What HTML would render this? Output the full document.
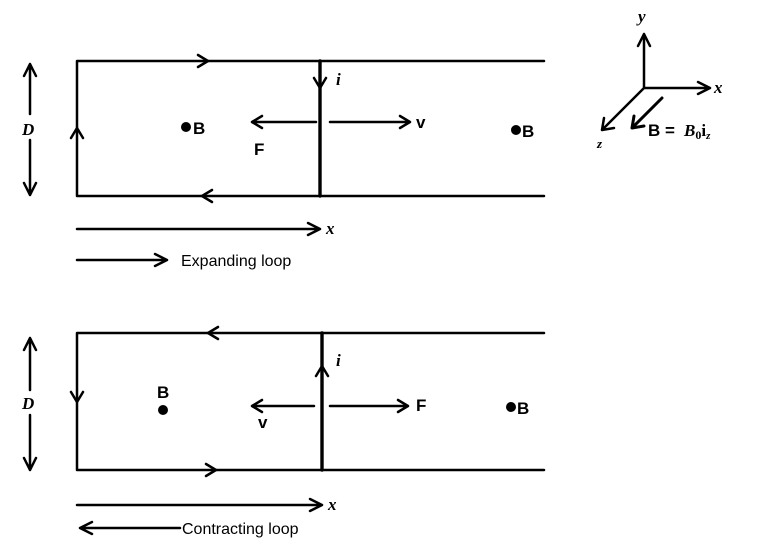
<!DOCTYPE html><html><head><style>body{margin:0;background:#fff}svg{display:block}text{font-family:"Liberation Sans",sans-serif;fill:#000}</style></head><body>
<svg width="776" height="546" viewBox="0 0 776 546" xmlns="http://www.w3.org/2000/svg">
<g stroke="#000" fill="none" stroke-width="2.5" stroke-linecap="round" stroke-linejoin="round">
<path d="M544 61H77V196H544"/>
<path d="M320 61V196" stroke-width="3.4"/>
<path d="M198 55l10 6-10 6M212 190l-10 6 10 6M71 138l6-10 6 10M314 78l6 10 6-10"/>
<path d="M30 64V114M30 140V195M24 76l6-12 6 12M24 183l6 12 6-12"/>
<path d="M316 122H252M262 116l-10 6 10 6M330 122H410M400 116l10 6-10 6"/>
<path d="M77 229H320M308 223l12 6-12 6M77 260H167M155 254l12 6-12 6"/>
<path d="M544 333H77V470H544"/>
<path d="M322 333V470" stroke-width="3.4"/>
<path d="M218 327l-10 6 10 6M206 464l10 6-10 6M71 392l6 10 6-10M316 376l6-10 6 10"/>
<path d="M30 338V390M30 415V470M24 350l6-12 6 12M24 458l6 12 6-12"/>
<path d="M314 406H252M262 400l-10 6 10 6M330 406H408M398 400l10 6-10 6"/>
<path d="M77 505H322M310 499l12 6-12 6M180 528H80M92 522l-12 6 12 6"/>
<path d="M644 88V34M638 46l6-12 6 12M644 88H710M698 82l12 6-12 6M644 88L602 130M604 118l-2 12 12-2"/>
<path d="M662 98L632 128M634 116l-2 12 12-2" stroke-width="3"/>
</g>
<g fill="#000">
<circle cx="186" cy="127" r="5"/><circle cx="516" cy="130" r="5"/>
<circle cx="163" cy="410" r="5"/><circle cx="511" cy="407" r="5"/>
</g>
<g font-size="17" font-weight="bold">
<text x="193" y="134">B</text><text x="522" y="137">B</text>
<text x="254" y="155">F</text><text x="416" y="128">v</text>
<text x="157" y="398">B</text><text x="517" y="414">B</text>
<text x="258" y="428">v</text><text x="416" y="411">F</text>
<text x="648" y="136">B = </text>
</g>
<g font-style="italic" font-weight="bold" font-size="17">
<text x="22" y="135" style="font-family:'Liberation Serif',serif">D</text>
<text x="22" y="409" style="font-family:'Liberation Serif',serif">D</text>
<text x="336" y="85" style="font-family:'Liberation Serif',serif">i</text>
<text x="336" y="366" style="font-family:'Liberation Serif',serif">i</text>
<text x="326" y="234" style="font-family:'Liberation Serif',serif">x</text>
<text x="328" y="510" style="font-family:'Liberation Serif',serif">x</text>
<text x="714" y="93" style="font-family:'Liberation Serif',serif">x</text>
<text x="638" y="22" style="font-family:'Liberation Serif',serif">y</text>
<text x="597" y="148" font-size="13" style="font-family:'Liberation Serif',serif">z</text>
<text x="684" y="136" style="font-family:'Liberation Serif',serif">B<tspan font-size="12" dy="3" font-style="normal">0</tspan><tspan font-style="normal" dy="-3">i</tspan><tspan font-size="11" dy="3">z</tspan></text>
</g>
<text x="181" y="266" font-size="16">Expanding loop</text>
<text x="182" y="534" font-size="16">Contracting loop</text>
</svg></body></html>
